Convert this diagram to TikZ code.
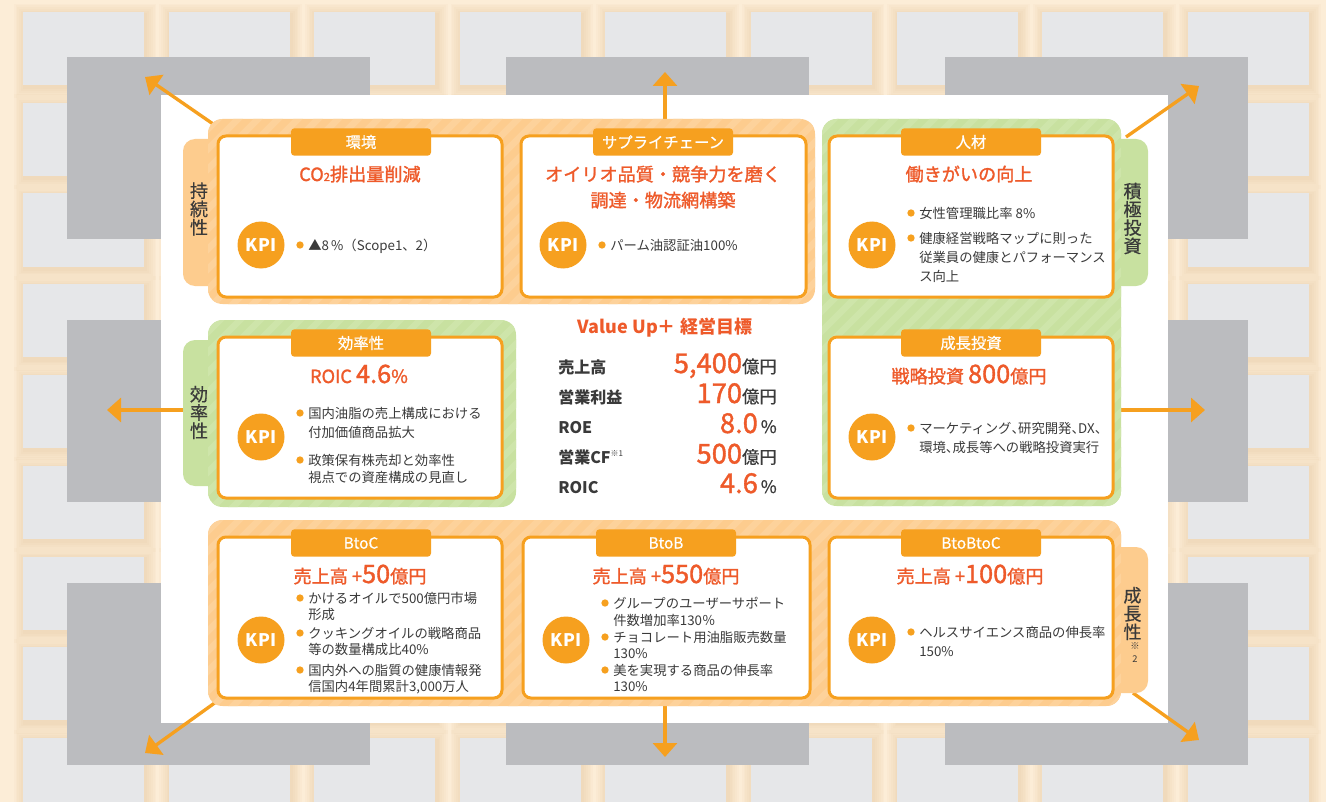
\documentclass[tikz,border=0pt]{standalone}
\usepackage{fontspec}
\setmainfont{Noto Sans CJK JP}
\newfontfamily\medfont{Noto Sans CJK JP}[FakeBold=1.4]
\newfontfamily\semifont{Noto Sans CJK JP}[FakeBold=0.6]
\usetikzlibrary{arrows.meta}
\definecolor{bgc}{HTML}{FCEDD7}
\definecolor{tile}{HTML}{E6E7E9}
\definecolor{tshadow}{HTML}{E2C092}
\definecolor{framec}{HTML}{BBBCBF}
\definecolor{kor}{HTML}{F6A01F}
\definecolor{bandO}{HTML}{FDCC8E}
\definecolor{stripeO}{HTML}{FDD29B}
\definecolor{bandG}{HTML}{C8E1A0}
\definecolor{stripeG}{HTML}{CEE5AA}
\definecolor{hred}{HTML}{EE5A2A}
\definecolor{tdark}{HTML}{3A3A3A}
\newcommand\tq{\makebox[0.5em][l]{、}}
\newcommand\bnum[1]{{\fontsize{19pt}{19pt}\selectfont #1}}
\newcommand\mybandfill[6]{%
  \fill[#5, rounded corners=11pt] (#1,#2) rectangle (#3,#4);
  \begin{scope}
    \clip[rounded corners=11pt] (#1,#2) rectangle (#3,#4);
    \foreach \s in {-400,-380,...,940}
      \draw[#6, line width=5pt] ({#1+\s},{#4+5}) -- ++(420,-420);
  \end{scope}}
\tikzset{
  card/.style={fill=white, draw=kor, line width=2.25pt, rounded corners=6pt},
  tabbox/.style={fill=kor, rounded corners=2.5pt, minimum width=105pt, minimum height=20.5pt,
    inner sep=0pt, text=white, font=\semifont\fontsize{11.5pt}{12pt}\selectfont},
  kpi/.style={circle, fill=kor, minimum size=35.25pt, inner sep=0pt, text=white,
    font=\fontsize{13pt}{13pt}\selectfont\bfseries},
  kt/.style={text=tdark, font=\fontsize{10pt}{12pt}\selectfont, inner sep=0pt, anchor=west,
    text height=8.8pt, text depth=1.2pt},
  dot/.style={circle, fill=kor, minimum size=5.5pt, inner sep=0pt},
  head/.style={text=hred, font=\medfont\fontsize{13.6pt}{16pt}\selectfont, inner sep=0pt, anchor=base},
  vt/.style={text=tdark, font=\semifont\fontsize{13.5pt}{13.7pt}\selectfont, align=center, inner sep=0pt},
  lbl/.style={text=tdark, font=\fontsize{12pt}{12pt}\selectfont\bfseries, inner sep=0pt, anchor=base west},
  val/.style={inner sep=0pt, anchor=base east},
  arr/.style={draw=kor, line width=2.5pt, -{Triangle[length=10.5pt,width=18pt]}},
}
\begin{document}
\begin{tikzpicture}[x=0.75pt,y=-0.75pt]
\useasboundingbox (0,0) rectangle (1326,802);
\fill[bgc] (0,0) rectangle (1326,802);
% background tiles
\foreach \c in {0,...,8}{
  \foreach \r in {0,...,8}{
    \pgfmathsetmacro\tx{23+145.6*\c}
    \pgfmathsetmacro\ty{12+90.75*\r}
    \foreach \k in {1,...,6}{
      \fill[tshadow, opacity=0.07] ({\tx-\k*1.8+1.5},{\ty-\k*1.8+2.5}) rectangle ({\tx+121+\k*1.8+1.5},{\ty+73+\k*1.8+2.5});
    }
    \fill[tile] (\tx,\ty) rectangle ({\tx+121},{\ty+73});
  }
}
% gray frames
\fill[framec] (67,57) rectangle (370,239);
\fill[framec] (506,57) rectangle (809,95);
\fill[framec] (945,57) rectangle (1248,239);
\fill[framec] (67,320) rectangle (161,502);
\fill[framec] (1168,320) rectangle (1248,502);
\fill[framec] (67,583) rectangle (370,765);
\fill[framec] (506,723) rectangle (809,765);
\fill[framec] (945,583) rectangle (1248,765);
% white panel
\fill[white] (161,95) rectangle (1168,723);
% arrows
\coordinate (a1s) at (216,126); \coordinate (a1e) at (145,77);
\coordinate (a2s) at (665,119); \coordinate (a2e) at (665,72);
\coordinate (a3s) at (1126,137); \coordinate (a3e) at (1199,86);
\coordinate (a4s) at (183,410); \coordinate (a4e) at (107,410);
\coordinate (a5s) at (1121,410); \coordinate (a5e) at (1205,410);
\coordinate (a6s) at (216,702); \coordinate (a6e) at (145,753);
\coordinate (a7s) at (665,706); \coordinate (a7e) at (665,757);
\coordinate (a8s) at (1133,693); \coordinate (a8e) at (1199,740);
\foreach \i in {1,...,8}{\draw[arr] (a\i s) -- (a\i e);}
% side tabs
\fill[bandO, rounded corners=9pt] (183,139) rectangle (225,286);
\fill[bandG, rounded corners=9pt] (1105,139) rectangle (1148,286);
\fill[bandG, rounded corners=9pt] (183,340) rectangle (225,486);
\fill[bandO, rounded corners=9pt] (1105,547) rectangle (1148,693);
% bands
\mybandfill{208}{119}{815}{304}{bandO}{stripeO}
\mybandfill{822}{119}{1121}{506}{bandG}{stripeG}
\mybandfill{208}{320}{516}{507}{bandG}{stripeG}
\mybandfill{208}{520}{1121}{706}{bandO}{stripeO}
% cards
\path[card] (218,136) rectangle (502,297);
\path[card] (521,136) rectangle (806,297);
\path[card] (829,136) rectangle (1113,297);
\path[card] (829,337) rectangle (1113,498);
\path[card] (218,337) rectangle (502,498);
\path[card] (218,537) rectangle (502,698);
\path[card] (523,537) rectangle (810,698);
\path[card] (829,537) rectangle (1113,698);
% card tabs
\node[tabbox] (tEnv) at (361,142) {環境};
\node[tabbox] (tSup) at (663,142) {サプライチェーン};
\node[tabbox] (tHum) at (971,142) {人材};
\node[tabbox] (tGro) at (971,343) {成長投資};
\node[tabbox] (tEff) at (361,343) {効率性};
\node[tabbox] (tBtoC) at (361,543) {BtoC};
\node[tabbox] (tBtoB) at (666,543) {BtoB};
\node[tabbox] (tBBC) at (971,543) {BtoBtoC};
% headings
\node[head] (hEnv) at (360,181) {CO{\fontsize{8.5pt}{8.5pt}\selectfont 2}排出量削減};
\node[head] (hSup1) at (663,181) {オイリオ品質・競争力を磨く};
\node[head] (hSup2) at (663,207) {調達・物流網構築};
\node[head] (hHum) at (969,181) {働きがいの向上};
\node[head] (hGro) at (969,383) {戦略投資 \bnum{800}億円};
\node[head] (hEff) at (359,383) {ROIC \bnum{4.6}\%};
\node[head] (hBtoC) at (360,583) {売上高 +\bnum{50}億円};
\node[head] (hBtoB) at (666,583) {売上高 +\bnum{550}億円};
\node[head] (hBBC) at (970,583) {売上高 +\bnum{100}億円};
% KPI circles
\node[kpi] (kEnv) at (261,245) {KPI};
\node[kpi] (kSup) at (563,245) {KPI};
\node[kpi] (kHum) at (872,245) {KPI};
\node[kpi] (kGro) at (872,437) {KPI};
\node[kpi] (kEff) at (261,437) {KPI};
\node[kpi] (kBtoC) at (261,640) {KPI};
\node[kpi] (kBtoB) at (566,640) {KPI};
\node[kpi] (kBBC) at (872,640) {KPI};
% KPI texts
\node[dot] (dEnv) at (300,245) {};
\node[kt] (xEnv) at (308,245) {▲8\,\%（Scope1、2）};
\node[dot] (dSup) at (602,245) {};
\node[kt] (xSup) at (610,245) {パーム油認証油100\%};
\node[dot] (dHum1) at (911,213) {};
\node[kt] (xHum1) at (919,213) {女性管理職比率 8\%};
\node[dot] (dHum2) at (911,238) {};
\node[kt] (xHum2) at (919,238) {健康経営戦略マップに則った};
\node[kt] (xHum3) at (919,257) {従業員の健康とパフォーマンス};
\node[kt] (xHum4) at (919,276) {ス向上};
\node[dot] (dGro) at (911,428) {};
\node[kt] (xGro1) at (919,428) {マーケティング\tq 研究開発\tq DX\tq};
\node[kt] (xGro2) at (919,447) {環境\tq 成長等への戦略投資実行};
\node[dot] (dEff1) at (300,413) {};
\node[kt] (xEff1) at (308,413) {国内油脂の売上構成における};
\node[kt] (xEff2) at (308,432) {付加価値商品拡大};
\node[dot] (dEff2) at (300,460) {};
\node[kt] (xEff3) at (308,460) {政策保有株売却と効率性};
\node[kt] (xEff4) at (308,477) {視点での資産構成の見直し};
\node[dot] (dC1) at (300,598) {};
\node[kt] (xC1) at (308,598) {かけるオイルで500億円市場};
\node[kt] (xC2) at (308,614) {形成};
\node[dot] (dC2) at (300,633) {};
\node[kt] (xC3) at (308,633) {クッキングオイルの戦略商品};
\node[kt] (xC4) at (308,649) {等の数量構成比40\%};
\node[dot] (dC3) at (300,670) {};
\node[kt] (xC5) at (308,670) {国内外への脂質の健康情報発};
\node[kt] (xC6) at (308,686) {信国内4年間累計3,000万人};
\node[dot] (dB1) at (605,603) {};
\node[kt] (xB1) at (613,603) {グループのユーザーサポート};
\node[kt] (xB2) at (613,620) {件数増加率130％};
\node[dot] (dB2) at (605,637) {};
\node[kt] (xB3) at (613,637) {チョコレート用油脂販売数量};
\node[kt] (xB4) at (613,653) {130\%};
\node[dot] (dB3) at (605,670) {};
\node[kt] (xB5) at (613,670) {美を実現する商品の伸長率};
\node[kt] (xB6) at (613,686) {130\%};
\node[dot] (dBBC) at (911,632) {};
\node[kt] (xBBC1) at (919,632) {ヘルスサイエンス商品の伸長率};
\node[kt] (xBBC2) at (919,651) {150\%};
% vertical side labels
\node[vt] (vSus) at (199,209) {持\\続\\性};
\node[vt] (vEff) at (199,412.5) {効\\率\\性};
\node[vt] (vInv) at (1132.5,218.5) {積\\極\\投\\資};
\node[vt] (vGro) at (1132.5,613.5) {成\\長\\性};
\node[text=tdark, inner sep=0pt, font=\fontsize{7pt}{7pt}\selectfont] (vGroN1) at (1135,646) {※};
\node[text=tdark, inner sep=0pt, font=\fontsize{7pt}{7pt}\selectfont] (vGroN2) at (1135,659) {2};
% center targets
\node[text=hred, inner sep=0pt, anchor=base, font=\fontsize{13.5pt}{14pt}\selectfont\bfseries] (vtitle) at (665,333) {Value Up＋ 経営目標};
\node[lbl] (l1) at (558,373) {売上高};
\node[lbl] (l2) at (558,403) {営業利益};
\node[lbl] (l3) at (558,433) {ROE};
\node[lbl] (l4) at (558,463.5) {営業CF\raisebox{5pt}{\fontsize{6pt}{6pt}\selectfont\mdseries ※1}};
\node[lbl] (l5) at (558,493) {ROIC};
\node[val] (v1) at (777,373) {{\color{hred}\medfont\fontsize{20.5pt}{20pt}\selectfont 5,400}{\color{tdark}\semifont\fontsize{13pt}{13pt}\selectfont 億円}};
\node[val] (v2) at (777,403) {{\color{hred}\medfont\fontsize{20.5pt}{20pt}\selectfont 170}{\color{tdark}\semifont\fontsize{13pt}{13pt}\selectfont 億円}};
\node[val] (v3) at (777,433) {{\color{hred}\medfont\fontsize{20.5pt}{20pt}\selectfont 8.0}{\color{tdark}\semifont\fontsize{13pt}{13pt}\selectfont\,\%}};
\node[val] (v4) at (777,463.5) {{\color{hred}\medfont\fontsize{20.5pt}{20pt}\selectfont 500}{\color{tdark}\semifont\fontsize{13pt}{13pt}\selectfont 億円}};
\node[val] (v5) at (777,493) {{\color{hred}\medfont\fontsize{20.5pt}{20pt}\selectfont 4.6}{\color{tdark}\semifont\fontsize{13pt}{13pt}\selectfont\,\%}};
\end{tikzpicture}
\end{document}
